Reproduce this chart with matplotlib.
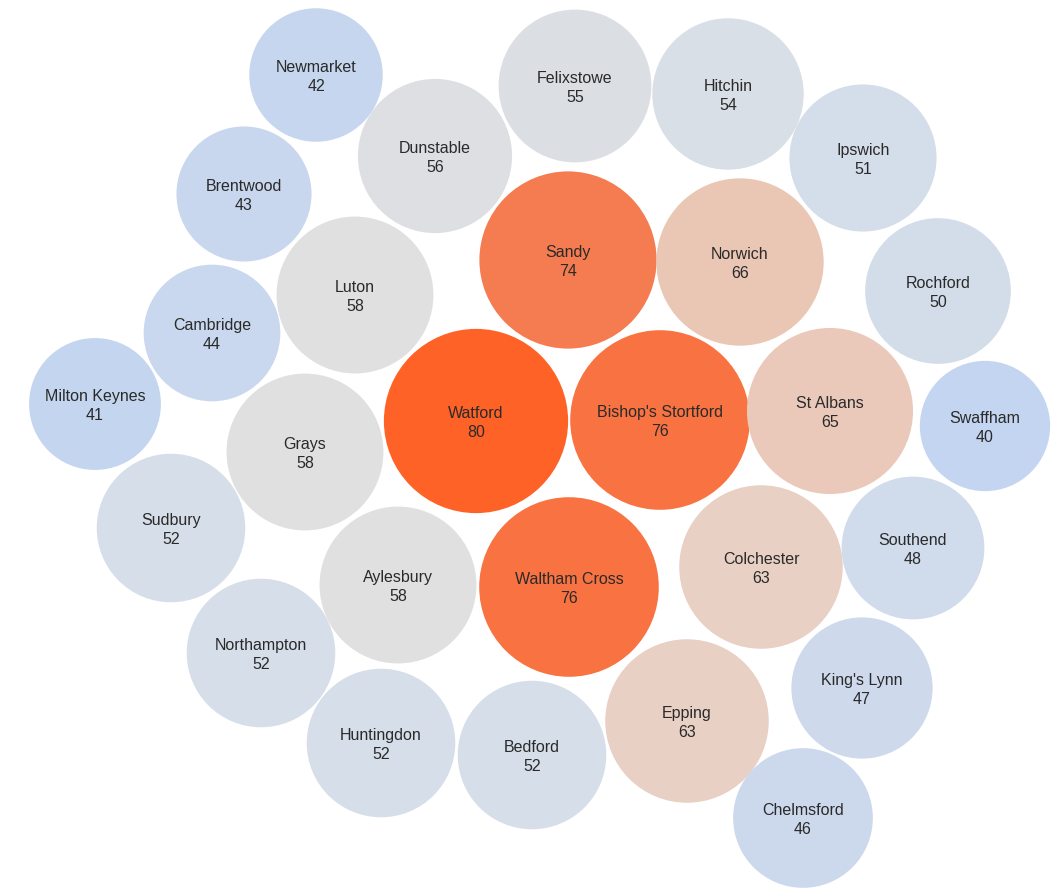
import matplotlib
matplotlib.use("Agg")
import matplotlib.pyplot as plt
from matplotlib.patches import Circle
from matplotlib.colors import LinearSegmentedColormap, Normalize
import numpy as np

# ---- data ----
towns = ["Watford", "Bishop's Stortford", "Waltham Cross", "Sandy", "Norwich",
         "St Albans", "Colchester", "Epping", "Luton", "Grays", "Aylesbury",
         "Dunstable", "Felixstowe", "Hitchin", "Sudbury", "Northampton",
         "Huntingdon", "Bedford", "Ipswich", "Rochford", "Southend",
         "King's Lynn", "Chelmsford", "Cambridge", "Brentwood", "Newmarket",
         "Milton Keynes", "Swaffham"]
values = [80, 76, 76, 74, 66, 65, 63, 63, 58, 58, 58, 56, 55, 54, 52, 52, 52,
          52, 51, 50, 48, 47, 46, 44, 43, 42, 41, 40]

# ---- packed-bubble layout (centres of the packing, in canvas units) ----
layout_x = [476, 660, 569, 568, 740, 830, 761, 687, 355, 305, 398, 435, 575,
            728, 171, 261, 381, 532, 863, 938, 913, 862, 803, 212, 244, 316,
            95, 985]
layout_y = [421, 420, 587, 260, 262, 411, 567, 721, 295, 452, 585, 156, 86,
            94, 528, 653, 743, 755, 158, 291, 548, 688, 818, 333, 194, 75,
            404, 426]

W, H = 1059, 892
fig = plt.figure(figsize=(W / 100, H / 100), dpi=100)
ax = fig.add_axes([0, 0, 1, 1])
ax.set_xlim(0, W)
ax.set_ylim(H, 0)
ax.set_aspect("equal")
ax.axis("off")

cmap = LinearSegmentedColormap.from_list(
    "bubbles",
    [(0.0, "#c3d5f0"), (0.30, "#d6dee9"), (0.45, "#e0e0e0"),
     (0.60, "#e9cdc0"), (0.70, "#ebbfaa"), (0.85, "#f47c50"), (1.0, "#ff6226")])
norm = Normalize(vmin=min(values), vmax=max(values))

k = 10.3  # area proportional to value
for name, v, x, y in zip(towns, values, layout_x, layout_y):
    r = k * np.sqrt(v)
    ax.add_patch(Circle((x, y), r, facecolor=cmap(norm(v)), edgecolor="none"))
    ax.text(x, y + 2, f"{name}\n{v}", ha="center", va="center", fontsize=11.5,
            family=["Liberation Sans", "DejaVu Sans"], color="#2a2a2a",
            linespacing=1.3)

fig.savefig("out.png", dpi=100, facecolor="white")
